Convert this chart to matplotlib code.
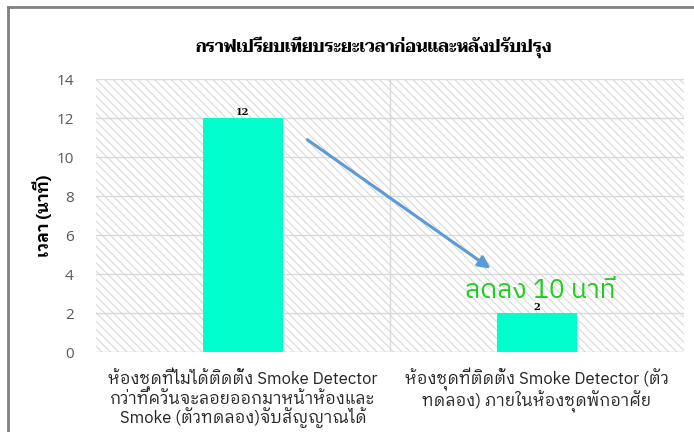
import numpy as np
import matplotlib
matplotlib.use("Agg")
import matplotlib.pyplot as plt
from matplotlib.lines import Line2D
from matplotlib.patches import Rectangle

# ข้อมูล
categories = [
    "ห้องชุดที่ไม่ได้ติดตั้ง Smoke Detector\nกว่าที่ควันจะลอยออกมาหน้าห้องและ\nSmoke (ตัวทดลอง)จับสัญญาณได้",
    "ห้องชุดที่ติดตั้ง Smoke Detector (ตัว\nทดลอง) ภายในห้องชุดพักอาศัย",
]
values = [12, 2]
y_ticks = [0, 2, 4, 6, 8, 10, 12, 14]
title = "กราฟเปรียบเทียบระยะเวลาก่อนและหลังปรับปรุง"
y_label = "เวลา (นาที)"
note = "ลดลง 10 นาที"

# ฟอนต์ไทย
plt.rcParams['font.family'] = ['IBM Plex Sans Thai Looped', 'DejaVu Sans']
plt.rcParams['hatch.linewidth'] = 0.8
plt.rcParams['hatch.color'] = '#D9D9D9'

fig = plt.figure(figsize=(6.94, 4.32), dpi=100)
ax = fig.add_axes([0.1383, 0.185, 0.8473, 0.632])

x = np.arange(len(values))
ax.add_patch(Rectangle((0, 0), 1, 1, transform=ax.transAxes, fill=False,
                       hatch='\\\\\\\\', edgecolor='#D9D9D9', linewidth=0, zorder=0))
bars = ax.bar(x, values, width=0.27, color='#00FFCC', zorder=3)
for b, v in zip(bars, values):
    ax.text(b.get_x() + b.get_width() / 2, v + 0.05, str(v), ha='center', va='bottom',
            fontsize=7, fontweight='bold', color='black', family=['DejaVu Serif'])

ax.set_xlim(-0.5, len(values) - 0.5)
ax.set_ylim(0, 14)
ax.set_yticks(y_ticks)
ax.set_xticks(x)
ax.set_xticklabels(categories, fontsize=12, color='#262626', linespacing=1.0)
for lbl in ax.get_yticklabels():
    lbl.set_family(['Open Sans', 'DejaVu Sans'])
ax.tick_params(axis='y', labelsize=11, labelcolor='#595959', length=0, pad=16)
ax.tick_params(axis='x', length=0, pad=11)
ax.grid(axis='y', color='#D9D9D9', linewidth=1, zorder=1)
ax.axvline(0.5, color='#D9D9D9', linewidth=1, zorder=1)
for s in ax.spines.values():
    s.set_visible(False)
ax.axhline(0, color='#D9D9D9', linewidth=1, zorder=2)

ax.set_ylabel(y_label, fontsize=12, fontweight='bold', labelpad=3)
fig.text(0.538, 0.891, title, ha='center', va='center', fontsize=12, fontweight='bold',
         family=['Taviraj', 'DejaVu Serif'])

# ลูกศรแสดงการลดลง
ax.annotate('', xy=(0.85, 4.2), xytext=(0.211, 10.97),
            arrowprops=dict(arrowstyle='-|>', color='#5B9BD5', lw=2.2, mutation_scale=18), zorder=4)
ax.text(1.01, 2.75, note, ha='center', va='baseline', fontsize=19, color='#22CC22', zorder=4,
        family=['IBM Plex Sans Thai', 'DejaVu Sans'])

# กรอบรูป
fig.add_artist(Line2D([8 / 694, 8 / 694], [0, 1 - 7 / 432], color='#808080', lw=2))
fig.add_artist(Line2D([8 / 694, 1], [1 - 7 / 432, 1 - 7 / 432], color='#808080', lw=2))

fig.savefig('out.png', dpi=100)
